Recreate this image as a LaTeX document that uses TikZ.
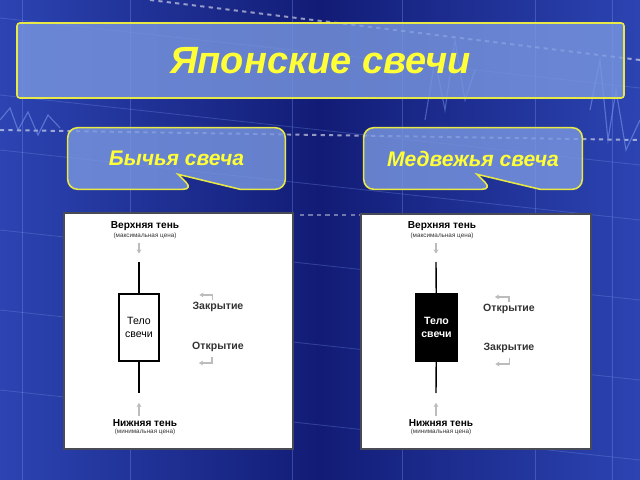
\documentclass[tikz,border=0pt]{standalone}
\usepackage{fontspec}
\setmainfont{Liberation Sans}
\usetikzlibrary{positioning,calc,arrows.meta}

\definecolor{bgdeep}{RGB}{18,28,118}
\definecolor{bgglow}{RGB}{44,68,178}
\definecolor{gridblue}{RGB}{120,150,235}
\definecolor{boxblue}{RGB}{122,152,224}
\definecolor{rimyellow}{RGB}{232,232,70}
\definecolor{textyellow}{RGB}{255,255,55}
\definecolor{hintgray}{RGB}{188,188,188}
\definecolor{panelrim}{RGB}{72,74,86}

\tikzset{
  banner/.style={draw=rimyellow, line width=1.1pt, fill=boxblue, fill opacity=0.8,
    text opacity=1, rounded corners=2pt, text=textyellow,
    minimum width=607*0.025cm, minimum height=75*0.025cm,
    font=\fontsize{27}{30}\selectfont\bfseries\itshape},
  bubbletext/.style={text=textyellow, font=\fontsize{15}{18}\selectfont\bfseries\itshape},
  bubble/.style={draw=rimyellow, line width=1.1pt, fill=boxblue, fill opacity=0.8},
  panel/.style={draw=panelrim, line width=1.4pt, fill=white},
  candle/.style={draw=black, line width=0.8pt, minimum width=40*0.025cm,
    minimum height=67*0.025cm, align=center, font=\fontsize{7.5}{9}\selectfont},
  wick/.style={line width=1pt, black},
  shadow/.style={font=\fontsize{7.2}{8}\selectfont\bfseries, inner sep=0.5pt},
  note/.style={font=\fontsize{4.5}{5}\selectfont, inner sep=0.5pt, text=black!80},
  price/.style={font=\fontsize{7.5}{9}\selectfont\bfseries, inner sep=0pt, text=black!80},
  hint/.style={draw=hintgray, line width=1pt, -{Stealth[length=3pt,width=3.5pt]}}
}

\begin{document}
\begin{tikzpicture}[x=0.025cm, y=-0.025cm]
\useasboundingbox (0,0) rectangle (640,480);

% background: stock chart screen
\shade[left color=bgglow, right color=bgglow, middle color=bgdeep] (0,0) rectangle (640,480);
\foreach \gx in {22,130,292,402,535,612}
  \draw[gridblue, opacity=0.35, line width=0.6pt] (\gx,0) -- (\gx,480);
\foreach \gy in {18,95,150,230,310,390}
  \draw[gridblue, opacity=0.3, line width=0.6pt] (0,\gy) -- (640,\gy+70);
\draw[white, opacity=0.55, dashed, line width=1.4pt] (150,0) -- (640,60);
\draw[white, opacity=0.55, dashed, line width=1.4pt] (0,130) -- (640,140);
\draw[white, opacity=0.4, dashed, line width=1.2pt] (300,215) -- (360,215);
\draw[gridblue, opacity=0.6, line width=0.8pt]
  (0,120) -- (10,108) -- (18,130) -- (28,112) -- (38,135) -- (48,115) -- (60,128);
\draw[gridblue, opacity=0.6, line width=0.8pt]
  (590,110) -- (600,60) -- (608,140) -- (616,90) -- (626,150) -- (640,120);
\draw[gridblue, opacity=0.5, line width=0.8pt]
  (425,120) -- (435,60) -- (445,110) -- (455,40) -- (465,100) -- (475,70);

% title and the two callouts
\node (title) [banner] at (320.5,60.5) {Японские свечи};

\node (bull) [bubbletext, minimum width=217*0.025cm, minimum height=61*0.025cm]
  at (176.5,158.5) {};
\draw[bubble] ($(bull.south)+(16.5,0)$) -- ($(bull.south)+(1.5,-15)$)
  -- ($(bull.south)+(63.5,0)$) [rounded corners=7pt] -- (bull.south east)
  -- (bull.north east) -- (bull.north west) -- (bull.south west) -- cycle;
\node [bubbletext] at (bull) {Бычья свеча};

\node (bear) [bubbletext, minimum width=218*0.025cm, minimum height=61*0.025cm]
  at (473,158.5) {};
\draw[bubble] ($(bear.south)+(19,0)$) -- ($(bear.south)+(4,-15)$)
  -- ($(bear.south)+(67,0)$) [rounded corners=7pt] -- (bear.south east)
  -- (bear.north east) -- (bear.north west) -- (bear.south west) -- cycle;
\node [bubbletext] at (bear) {Медвежья свеча};

% bullish candle
\node (bullpanel) [panel, minimum width=229*0.025cm, minimum height=236*0.025cm]
  at (178.5,331) {};
\node (bullhigh) [shadow] at (145,226) {Верхняя тень};
\node (bullhighnote) [note, below=0.5pt of bullhigh] {(максимальная цена)};
\coordinate (bulltop) at (139,262);
\node (bullbody) [candle, fill=white] at (139,327.5) {Тело\\свечи};
\coordinate (bullbottom) at (139,393);
\node (bulllow) [shadow] at (145,423) {Нижняя тень};
\node (bulllownote) [note, below=0.5pt of bulllow] {(минимальная цена)};
\node (bullclose) [price] at (218,307) {Закрытие};
\node (bullopen) [price] at (218,347) {Открытие};

\draw[wick] (bulltop) -- (bullbody);
\draw[wick] (bullbody) -- (bullbottom);
\draw[hint, shorten <=2pt, shorten >=6pt] (bullhighnote.south -| bulltop) -- (bulltop);
\draw[hint, shorten <=2pt, shorten >=7pt] (bulllow.north -| bullbottom) -- (bullbottom);
\draw[hint] ($(bullclose.north west)+(20,-2)$) |- ($(bullclose.north west)+(7,-7)$);
\draw[hint] ($(bullopen.south west)+(20,5)$) |- ($(bullopen.south west)+(7,11)$);

% bearish candle
\node (bearpanel) [panel, minimum width=230*0.025cm, minimum height=235*0.025cm]
  at (476,331.5) {};
\node (bearhigh) [shadow] at (442,226) {Верхняя тень};
\node (bearhighnote) [note, below=0.5pt of bearhigh] {(максимальная цена)};
\coordinate (beartop) at (436,262);
\node (bearbody) [candle, fill=black, text=white, minimum width=41*0.025cm] at (436.5,327.5)
  {\bfseries Тело\\\bfseries свечи};
\coordinate (bearbottom) at (436,393);
\node (bearlow) [shadow] at (441,423) {Нижняя тень};
\node (bearlownote) [note, below=0.5pt of bearlow] {(минимальная цена)};
\node (bearopen) [price] at (509,309) {Открытие};
\node (bearclose) [price] at (509,348) {Закрытие};

\draw[wick] (beartop) -- (bearbody);
\draw[wick] (bearbody) -- (bearbottom);
\draw[hint, shorten <=2pt, shorten >=6pt] (bearhighnote.south -| beartop) -- (beartop);
\draw[hint, shorten <=2pt, shorten >=7pt] (bearlow.north -| bearbottom) -- (bearbottom);
\draw[hint] ($(bearopen.north west)+(26,-2)$) |- ($(bearopen.north west)+(12,-7)$);
\draw[hint] ($(bearclose.south west)+(26,5)$) |- ($(bearclose.south west)+(12,11)$);
\end{tikzpicture}
\end{document}
